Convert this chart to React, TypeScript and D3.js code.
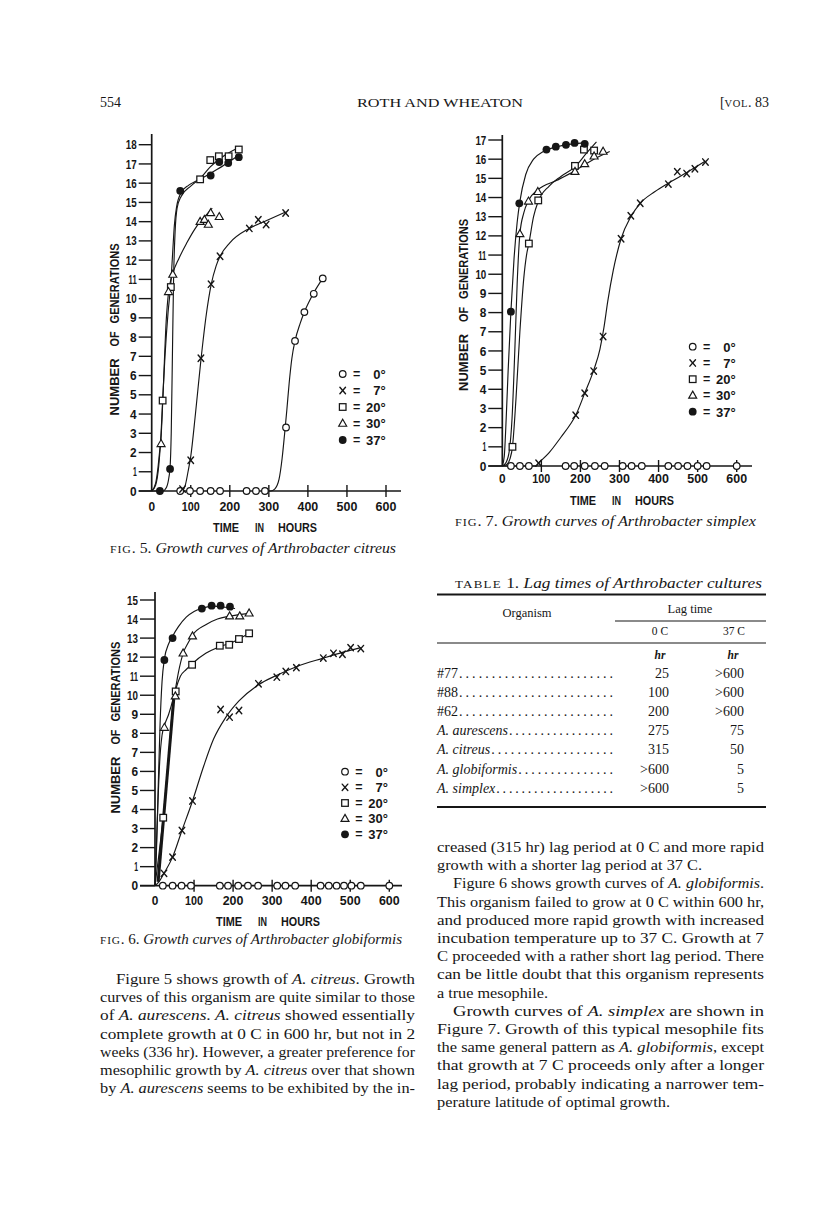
import React, { useLayoutEffect, useRef, useState } from "react";
import * as d3 from "d3";

type Pt = [number, number];

// ---------------- Fig. 5  A. citreus ----------------
const f5Deg0: Pt[] = [[73,0],[98,0],[124,0],[151,0],[175,0],[243,0],[267,0],[290,0],[344,3.3],[367,7.8],[391,9.3],[415,10.25],[438,11.05]];
const f5Deg7: Pt[] = [[79,0.1],[100,1.6],[126,6.9],[152,10.75],[175,12.2],[250,13.65],[273,14.1],[293,13.85],[343,14.45]];
const f5Deg20: Pt[] = [[28,4.7],[49,10.6],[124,16.2],[150,17.2],[172,17.4],[197,17.4],[223,17.75]];
const f5Deg30: Pt[] = [[24,2.45],[43,10.35],[54,11.25],[124,14.0],[135,14.1],[145,13.85],[151,14.45],[173,14.25]];
const f5Deg37: Pt[] = [[21,0],[47,1.15],[73,15.6],[151,16.4],[173,17.1],[196,17.05],[223,17.35]];
// fitted curves as drawn in the figure
const f5Curve0: Pt[] = [[290,0],[305,0],[315,0.1],[326,0.6],[334,1.7],[340,2.9],[346,4.2],[352,5.6],[359,6.9],[367,7.8],[380,8.7],[391,9.3],[415,10.3],[438,11.05]];
const f5Curve7: Pt[] = [[75,0],[80,0.05],[86,0.3],[93,1],[100,1.8],[112,4],[126,6.8],[140,9.2],[152,10.7],[165,11.7],[175,12.2],[200,12.9],[250,13.65],[293,14.05],[343,14.5]];
const f5Curve20: Pt[] = [[0,0],[10,0.3],[18,1.3],[24,3],[28,4.7],[34,7],[42,9.3],[49,10.8],[54,12.5],[58,13.8],[64,14.8],[75,15.5],[95,15.9],[124,16.25],[150,16.85],[180,17.35],[223,17.85]];
const f5Curve30: Pt[] = [[0,0],[10,0.4],[16,1.2],[20,2],[24,2.8],[30,5.5],[37,8.8],[43,10.3],[54,11.3],[70,12.1],[90,12.9],[110,13.6],[124,14.0],[140,14.35],[155,14.7]];
const f5Curve37: Pt[] = [[0,0],[28,0],[38,0.2],[44,0.7],[47,1.2],[50,3],[53,7],[56,11],[60,13.5],[65,14.7],[75,15.3],[100,15.85],[150,16.5],[190,17.0],[223,17.45]];

// ---------------- Fig. 7  A. simplex ----------------
const f7Deg0: Pt[] = [[22,0],[45,0],[68,0],[162,0],[184,0],[211,0],[237,0],[262,0],[308,0],[331,0],[357,0],[425,0],[450,0],[474,0],[500,0],[523,0],[600,0]];
const f7Deg7: Pt[] = [[93,0.15],[188,2.65],[211,3.8],[234,4.95],[258,6.75],[304,11.85],[329,13.05],[353,13.7],[425,14.7],[448,15.35],[472,15.25],[493,15.5],[520,15.85]];
const f7Deg20: Pt[] = [[26,1.0],[68,11.6],[92,13.85],[186,15.65],[209,16.5],[235,16.45]];
const f7Deg30: Pt[] = [[45,12.1],[67,13.8],[91,14.3],[186,15.35],[211,15.75],[235,16.15],[258,16.4]];
const f7Deg37: Pt[] = [[22,8.05],[43.5,13.7],[113,16.5],[137,16.65],[163,16.75],[185,16.85],[211,16.8]];
const f7Curve37: Pt[] = [[0,0],[5,0.5],[10,2.5],[15,5],[22,8.05],[30,10.8],[38,12.7],[45,13.8],[60,15.2],[80,16],[105,16.4],[140,16.65],[180,16.8],[211,16.85]];
const f7Curve30: Pt[] = [[0,0],[10,0.2],[18,0.8],[25,2.5],[32,6],[38,9.5],[45,12.1],[55,13.2],[67,13.85],[91,14.4],[140,14.9],[186,15.4],[230,15.95],[275,16.4]];
const f7Curve20: Pt[] = [[0,0],[12,0.1],[20,0.4],[26,1.0],[35,3.5],[45,7],[55,9.8],[62,11],[68,11.6],[80,13],[92,13.8],[120,14.6],[150,15.1],[186,15.6],[215,16.3],[241,16.9]];
const f7Curve7: Pt[] = [[0,0],[85,0],[95,0.2],[120,0.7],[150,1.5],[175,2.2],[188,2.65],[211,3.8],[234,5],[250,6.1],[260,7.2],[270,8.6],[284,10.2],[304,11.85],[329,13],[353,13.7],[390,14.3],[425,14.75],[472,15.3],[520,15.9]];

// ---------------- Fig. 6  A. globiformis ----------------
const f6Deg0: Pt[] = [[20,0],[45,0],[68,0],[92,0],[166,0],[187,0],[213,0],[238,0],[264,0],[313,0],[334,0],[359,0],[424,0],[445,0],[465,0],[484,0],[503,0],[527,0],[600,0]];
const f6Deg7: Pt[] = [[23,0.65],[45,1.5],[69,2.9],[96,4.45],[168,9.25],[191,8.85],[215,9.2],[265,10.6],[312,10.95],[335,11.25],[362,11.45],[431,11.95],[457,12.2],[480,12.15],[501,12.5],[527,12.45]];
const f6Deg20: Pt[] = [[21,3.57],[53,10.2],[95,11.6],[166,12.6],[190,12.65],[215,12.95],[241,13.25]];
const f6Deg30: Pt[] = [[24,8.3],[52,9.95],[72,12.2],[96,13.1],[191,14.15],[217,14.15],[241,14.3]];
const f6Deg37: Pt[] = [[24,11.85],[45,13.0],[120,14.55],[145,14.7],[168,14.7],[192,14.65]];
const f6Curve37: Pt[] = [[0,0],[4,2],[8,5],[13,8.5],[18,10.7],[24,11.9],[35,12.7],[45,13.1],[60,13.6],[80,14.1],[100,14.4],[120,14.56],[150,14.68],[180,14.62],[205,14.55]];
const f6Curve30: Pt[] = [[0,0],[6,3.5],[12,6.5],[18,7.9],[24,8.4],[35,9],[45,9.7],[52,10.3],[60,11.2],[72,12.2],[85,12.75],[96,13.15],[130,13.7],[160,14],[191,14.15],[241,14.3]];
const f6Curve20: Pt[] = [[0,0],[8,1.3],[21,3.6],[35,6.8],[48,9.9],[53,10.3],[65,11],[80,11.35],[95,11.65],[130,12.2],[166,12.55],[200,12.8],[241,13.25]];
const f6Curve7: Pt[] = [[0,0],[10,0.2],[23,0.65],[45,1.5],[69,2.9],[96,4.45],[125,6.3],[150,7.7],[180,8.8],[215,9.7],[265,10.55],[312,11.05],[362,11.5],[431,11.95],[480,12.25],[527,12.5]];
const f6Heavy: Pt[] = [[8,0.2],[48,9.8]];

const xTickValues = [0, 100, 200, 300, 400, 500, 600];
const legendLabels = ["0°", "7°", "20°", "30°", "37°"];
const legendKinds = ["o", "x", "s", "t", "f"];

// ---------------- Table ----------------
const tableOrganisms = ["#77", "#88", "#62", "_A. aurescens_", "_A. citreus_", "_A. globiformis_", "_A. simplex_"];
const tableLag0C = ["25", "100", "200", "275", "315", ">600", ">600"];
const tableLag37C = [">600", ">600", ">600", "75", "50", "5", "5"];

// ---------------- Text ----------------
const leftPara: string[] = [
  "Figure 5 shows growth of _A. citreus_. Growth",
  "curves of this organism are quite similar to those",
  "of _A. aurescens_. _A. citreus_ showed essentially",
  "complete growth at 0 C in 600 hr, but not in 2",
  "weeks (336 hr). However, a greater preference for",
  "mesophilic growth by _A. citreus_ over that shown",
  "by _A. aurescens_ seems to be exhibited by the in-",
];
const rightPara: string[] = [
  "creased (315 hr) lag period at 0 C and more rapid",
  "growth with a shorter lag period at 37 C.",
  "Figure 6 shows growth curves of _A. globiformis_.",
  "This organism failed to grow at 0 C within 600 hr,",
  "and produced more rapid growth with increased",
  "incubation temperature up to 37 C. Growth at 7",
  "C proceeded with a rather short lag period. There",
  "can be little doubt that this organism represents",
  "a true mesophile.",
  "Growth curves of _A. simplex_ are shown in",
  "Figure 7. Growth of this typical mesophile fits",
  "the same general pattern as _A. globiformis_, except",
  "that growth at 7 C proceeds only after a longer",
  "lag period, probably indicating a narrower tem-",
  "perature latitude of optimal growth.",
];
const rightIndent = [0, 0, 1, 0, 0, 0, 0, 0, 0, 1, 0, 0, 0, 0, 0];
const rightWidthOverride: Record<number, number> = { 1: 265, 8: 111, 14: 233 };

const SERIF = "'Liberation Serif', 'DejaVu Serif', serif";
const SANS = "'Liberation Sans', Arial, sans-serif";
const INK = "#161616";

function Rich({ x, y, w, text, size }: { x: number; y: number; w?: number; text: string; size: number }) {
  const parts = text.split("_");
  return (
    <text x={x} y={y} fontSize={size} fontFamily={SERIF} fill={INK}
      {...(w ? { textLength: w, lengthAdjust: "spacingAndGlyphs" } : {})}>
      {parts.map((p, i) => (
        <tspan key={i} fontStyle={i % 2 ? "italic" : "normal"}>{p}</tspan>
      ))}
    </text>
  );
}

function Marker({ kind, x, y }: { kind: string; x: number; y: number }) {
  switch (kind) {
    case "o":
      return <circle cx={x} cy={y} r={3.3} fill="#fff" stroke={INK} strokeWidth={1.2} />;
    case "x":
      return (
        <g stroke={INK} strokeWidth={1.4} strokeLinecap="round">
          <line x1={x - 2.8} y1={y - 3.2} x2={x + 2.8} y2={y + 3.2} />
          <line x1={x - 2.8} y1={y + 3.2} x2={x + 2.8} y2={y - 3.2} />
        </g>
      );
    case "s":
      return <rect x={x - 3.3} y={y - 3.3} width={6.6} height={6.6} fill="#fff" stroke={INK} strokeWidth={1.25} />;
    case "t":
      return <path d={`M${x},${y - 4.3}L${x + 4},${y + 2.7}L${x - 4},${y + 2.7}Z`} fill="#fff" stroke={INK} strokeWidth={1.15} />;
    default:
      return <circle cx={x} cy={y} r={3.9} fill={INK} />;
  }
}

function digitWidth(s: string) {
  let w = 0;
  for (const c of s) w += c === "1" ? 3.8 : 6.6;
  return w + (s.length - 1) * 0.5;
}

interface ChartCfg {
  ox: number; oy: number; x600: number; yMax: number; yTop: number;
  axisTop: number; axisRight: number; tickLen: number;
  xLabelDy: number; titleDy: number; titleCx: number;
  ylabX: number; ylabGen: number;
  legX: number; legY0: number; legDy: number;
  series: { kind: string; pts: Pt[]; curve: Pt[] }[];
  heavy?: Pt[];
}

function Chart({ c }: { c: ChartCfg }) {
  const x = d3.scaleLinear().domain([0, 600]).range([c.ox, c.x600]);
  const y = d3.scaleLinear().domain([0, c.yMax]).range([c.oy, c.yTop]);
  const line = d3.line<Pt>().x((d) => x(d[0])).y((d) => y(d[1])).curve(d3.curveMonotoneX);
  const yTicks = d3.range(0, c.yMax + 1);
  const ylabY = y(c.ylabGen);
  return (
    <g>
      <line x1={c.ox} y1={c.axisTop} x2={c.ox} y2={c.oy} stroke={INK} strokeWidth={1.7} />
      <line x1={c.ox - c.tickLen} y1={c.oy} x2={c.axisRight} y2={c.oy} stroke={INK} strokeWidth={1.7} />
      {yTicks.map((t) => (
        <g key={"y" + t}>
          <line x1={c.ox - c.tickLen} y1={y(t)} x2={c.ox} y2={y(t)} stroke={INK} strokeWidth={1.4} />
          <text x={c.ox - c.tickLen - 2} y={y(t) + 4.6} fontSize={13} fontWeight={700} fontFamily={SANS} fill={INK}
            textAnchor="end" textLength={digitWidth(String(t))} lengthAdjust="spacingAndGlyphs">{t}</text>
        </g>
      ))}
      {xTickValues.map((t) => (
        <g key={"x" + t}>
          {t > 0 && <line x1={x(t)} y1={c.oy - 6} x2={x(t)} y2={c.oy + 6} stroke={INK} strokeWidth={1.4} />}
          <text x={x(t)} y={c.oy + c.xLabelDy} fontSize={13} fontWeight={700} fontFamily={SANS} fill={INK}
            textAnchor="middle" textLength={digitWidth(String(t))} lengthAdjust="spacingAndGlyphs">{t}</text>
        </g>
      ))}
      <g fontSize={13} fontWeight={700} fontFamily={SANS} fill={INK}>
        <text x={c.titleCx - 52} y={c.oy + c.titleDy} textLength={26} lengthAdjust="spacingAndGlyphs">TIME</text>
        <text x={c.titleCx - 10} y={c.oy + c.titleDy} textLength={9} lengthAdjust="spacingAndGlyphs">IN</text>
        <text x={c.titleCx + 13} y={c.oy + c.titleDy} textLength={39} lengthAdjust="spacingAndGlyphs">HOURS</text>
        <g transform={`translate(${c.ylabX + 4.8},${ylabY}) rotate(-90)`}>
          <text x={-86} y={0} textLength={57} lengthAdjust="spacingAndGlyphs">NUMBER</text>
          <text x={-17} y={0} textLength={15} lengthAdjust="spacingAndGlyphs">OF</text>
          <text x={6} y={0} textLength={80} lengthAdjust="spacingAndGlyphs">GENERATIONS</text>
        </g>
      </g>
      {c.series.map((s, i) =>
        s.curve.length ? <path key={"c" + i} d={line(s.curve) || ""} fill="none" stroke={INK} strokeWidth={1.15} /> : null
      )}
      {c.heavy && <path d={line(c.heavy) || ""} fill="none" stroke={INK} strokeWidth={3} />}
      {c.series.map((s, i) => (
        <g key={"m" + i}>
          {s.pts.map((p, j) => <Marker key={j} kind={s.kind} x={x(p[0])} y={y(p[1])} />)}
        </g>
      ))}
      {legendLabels.map((lab, i) => {
        const ly = c.legY0 + i * c.legDy;
        return (
          <g key={"l" + i}>
            <Marker kind={legendKinds[i]} x={c.legX} y={ly} />
            <text x={c.legX + 14} y={ly + 4} fontSize={12.5} fontWeight={700} fontFamily={SANS} fill={INK} textAnchor="middle">=</text>
            <text x={c.legX + 43} y={ly + 4.8} fontSize={13} fontWeight={700} fontFamily={SANS} fill={INK} textAnchor="end">{lab}</text>
          </g>
        );
      })}
    </g>
  );
}

const fig5: ChartCfg = {
  ox: 151.7, oy: 491, x600: 386, yMax: 18, yTop: 144.7, axisTop: 134, axisRight: 401, tickLen: 13,
  xLabelDy: 19.5, titleDy: 41, titleCx: 265, ylabX: 114, ylabGen: 8.4,
  legX: 342.7, legY0: 374, legDy: 16.5,
  series: [
    { kind: "o", pts: f5Deg0, curve: f5Curve0 },
    { kind: "x", pts: f5Deg7, curve: f5Curve7 },
    { kind: "s", pts: f5Deg20, curve: f5Curve20 },
    { kind: "t", pts: f5Deg30, curve: f5Curve30 },
    { kind: "f", pts: f5Deg37, curve: f5Curve37 },
  ],
};
const fig7: ChartCfg = {
  ox: 502.3, oy: 466, x600: 736.7, yMax: 17, yTop: 140, axisTop: 135, axisRight: 752, tickLen: 14,
  xLabelDy: 17, titleDy: 39, titleCx: 622, ylabX: 463, ylabGen: 8.4,
  legX: 692.7, legY0: 346.7, legDy: 16.25,
  series: [
    { kind: "o", pts: f7Deg0, curve: [] },
    { kind: "x", pts: f7Deg7, curve: f7Curve7 },
    { kind: "s", pts: f7Deg20, curve: f7Curve20 },
    { kind: "t", pts: f7Deg30, curve: f7Curve30 },
    { kind: "f", pts: f7Deg37, curve: f7Curve37 },
  ],
};
const fig6: ChartCfg = {
  ox: 155, oy: 885.7, x600: 389.3, yMax: 15, yTop: 600, axisTop: 592, axisRight: 402, tickLen: 15,
  xLabelDy: 19.5, titleDy: 40, titleCx: 268, ylabX: 115, ylabGen: 8.3,
  legX: 345, legY0: 771.7, legDy: 15.65,
  series: [
    { kind: "o", pts: f6Deg0, curve: [] },
    { kind: "x", pts: f6Deg7, curve: f6Curve7 },
    { kind: "s", pts: f6Deg20, curve: f6Curve20 },
    { kind: "t", pts: f6Deg30, curve: f6Curve30 },
    { kind: "f", pts: f6Deg37, curve: f6Curve37 },
  ],
  heavy: f6Heavy,
};

function Caption({ x, y, w, num, rest }: { x: number; y: number; w: number; num: string; rest: string }) {
  return (
    <text x={x} y={y} fontFamily={SERIF} fill={INK} fontSize={14} textLength={w} lengthAdjust="spacingAndGlyphs">
      <tspan fontSize={10.5} letterSpacing={0.8}>FIG</tspan>
      <tspan>{`. ${num}. `}</tspan>
      <tspan fontStyle="italic">{rest}</tspan>
    </text>
  );
}

function OrgRow({ label, y }: { label: string; y: number }) {
  const ref = useRef<SVGTextElement>(null);
  const [w, setW] = useState(0);
  useLayoutEffect(() => {
    if (ref.current) setW(ref.current.getComputedTextLength());
  }, [label]);
  const parts = label.split("_");
  const start = 437 + w + 1;
  const end = 613;
  const step = 6.3;
  const n = w > 0 ? Math.max(0, Math.round((end - start) / step)) : 0;
  return (
    <g>
      <text ref={ref} x={437} y={y} fontSize={14} fontFamily={SERIF} fill={INK}>
        {parts.map((p, k) => <tspan key={k} fontStyle={k % 2 ? "italic" : "normal"}>{p}</tspan>)}
      </text>
      {n > 1 && (
        <text x={start} y={y} fontSize={14} fontFamily={SERIF} fill={INK}
          textLength={end - start} lengthAdjust="spacing">{".".repeat(n)}</text>
      )}
    </g>
  );
}

function Table() {
  const rowY0 = 678, rowDy = 19.1;
  return (
    <g fontFamily={SERIF} fill={INK}>
      <text x={455} y={588} fontSize={14} textLength={307} lengthAdjust="spacingAndGlyphs">
        <tspan fontSize={10.5} letterSpacing={1}>TABLE</tspan>
        <tspan> 1. </tspan>
        <tspan fontStyle="italic">Lag times of Arthrobacter cultures</tspan>
      </text>
      <line x1={437} y1={594.5} x2={766} y2={594.5} stroke={INK} strokeWidth={1.8} />
      <text x={527} y={617} fontSize={12.5} textAnchor="middle">Organism</text>
      <text x={690} y={613} fontSize={12.5} textAnchor="middle">Lag time</text>
      <line x1={615} y1={621} x2={766} y2={621} stroke={INK} strokeWidth={1.2} />
      <text x={660} y={635} fontSize={11.5} textAnchor="middle">0 C</text>
      <text x={734} y={635} fontSize={11.5} textAnchor="middle">37 C</text>
      <line x1={437} y1={643} x2={766} y2={643} stroke={INK} strokeWidth={1.2} />
      <text x={660} y={659} fontSize={11.5} fontStyle="italic" fontWeight={700} textAnchor="middle">hr</text>
      <text x={733} y={659} fontSize={11.5} fontStyle="italic" fontWeight={700} textAnchor="middle">hr</text>
      {tableOrganisms.map((o, i) => {
        const yy = rowY0 + i * rowDy;
        return (
          <g key={i}>
            <OrgRow label={o} y={yy} />
            <text x={669} y={yy} fontSize={14} textAnchor="end">{tableLag0C[i]}</text>
            <text x={744} y={yy} fontSize={14} textAnchor="end">{tableLag37C[i]}</text>
          </g>
        );
      })}
      <line x1={437} y1={807} x2={766} y2={807} stroke={INK} strokeWidth={1.8} />
    </g>
  );
}

export default function App() {
  const lx = 100, lw = 315, rx = 437, rw = 327, ind = 16, lh = 18.2;
  return (
    <svg width={816} height={1225} style={{ position: "absolute", left: 0, top: 0, background: "#fff" }}>
      <rect x={0} y={0} width={816} height={1225} fill="#fff" />
      <text x={100} y={107} fontSize={14} fontFamily={SERIF} fill={INK}>554</text>
      <text x={440} y={107} fontSize={13.5} fontFamily={SERIF} fill={INK} textAnchor="middle" textLength={166} lengthAdjust="spacingAndGlyphs">ROTH AND WHEATON</text>
      <text x={769} y={107} fontSize={14} fontFamily={SERIF} fill={INK} textAnchor="end">
        [<tspan fontSize={10.5} letterSpacing={0.6}>VOL</tspan>. 83
      </text>

      <Chart c={fig5} />
      <Caption x={110} y={553} w={286} num="5" rest="Growth curves of Arthrobacter citreus" />

      <Chart c={fig7} />
      <Caption x={455} y={526} w={301} num="7" rest="Growth curves of Arthrobacter simplex" />

      <Chart c={fig6} />
      <Caption x={100} y={944} w={302} num="6" rest="Growth curves of Arthrobacter globiformis" />

      <Table />

      {leftPara.map((t, i) => (
        <Rich key={"l" + i} x={i === 0 ? lx + ind : lx} y={984 + i * lh} w={i === 0 ? lw - ind : lw} text={t} size={15} />
      ))}
      {rightPara.map((t, i) => {
        const xx = rightIndent[i] ? rx + ind : rx;
        const w = rightWidthOverride[i] ?? (rightIndent[i] ? rw - ind : rw);
        return <Rich key={"r" + i} x={xx} y={852 + i * lh} w={w} text={t} size={15} />;
      })}
    </svg>
  );
}
